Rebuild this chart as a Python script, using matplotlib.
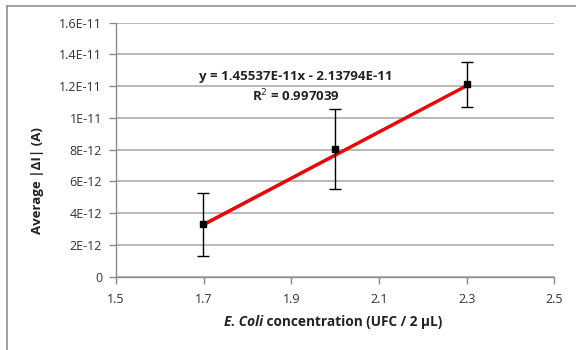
import matplotlib
matplotlib.use("Agg")
import matplotlib.pyplot as plt
from matplotlib.ticker import FixedLocator, FixedFormatter
from matplotlib.lines import Line2D

# ---- data ----
conc = [1.69897, 2.0, 2.30103]
avg_di = [3.30e-12, 8.05e-12, 12.12e-12]
err = [2.0e-12, 2.5e-12, 1.43e-12]
trend_slope = 1.45537e-11
trend_intercept = -2.13794e-11
red_x = [1.69897, 2.30103]
red_y = [3.25e-12, 12.03e-12]
y_ticks = [0, 2e-12, 4e-12, 6e-12, 8e-12, 1e-11, 1.2e-11, 1.4e-11, 1.6e-11]
y_tick_labels = ["0", "2E-12", "4E-12", "6E-12", "8E-12", "1E-11", "1.2E-11", "1.4E-11", "1.6E-11"]
x_ticks = [1.5, 1.7, 1.9, 2.1, 2.3, 2.5]
x_tick_labels = ["1.5", "1.7", "1.9", "2.1", "2.3", "2.5"]
eq_text = "y = 1.45537E-11x - 2.13794E-11"
r2_text = "R$^2$ = 0.997039"

plt.rcParams['font.family'] = ['Open Sans', 'DejaVu Sans']

W, H = 576, 350
fig = plt.figure(figsize=(W / 100, H / 100), dpi=100)
ax = fig.add_axes([116 / W, 1 - 276.7 / H, (554.3 - 116) / W, (276.7 - 22.7) / H])

# figure frame (top and left visible)
fig.add_artist(Line2D([6.5 / W, 6.5 / W], [0, 1 - 5.5 / H], transform=fig.transFigure,
                      color="#9a9a9a", lw=1.3))
fig.add_artist(Line2D([6.5 / W, 1], [1 - 5.5 / H, 1 - 5.5 / H], transform=fig.transFigure,
                      color="#9a9a9a", lw=1.3))

ax.set_xlim(1.5, 2.5)
ax.set_ylim(0, 1.6e-11)
ax.yaxis.set_major_locator(FixedLocator(y_ticks))
ax.yaxis.set_major_formatter(FixedFormatter(y_tick_labels))
ax.xaxis.set_major_locator(FixedLocator(x_ticks))
ax.xaxis.set_major_formatter(FixedFormatter(x_tick_labels))
ax.grid(axis='y', color="#a6a6a6", lw=1.1)
ax.set_axisbelow(True)
for s in ['top', 'right']:
    ax.spines[s].set_visible(False)
for s in ['left', 'bottom']:
    ax.spines[s].set_color("#8c8c8c")
    ax.spines[s].set_linewidth(1.0)
ax.tick_params(axis='both', direction='out', length=5, width=1, color="#8c8c8c",
               labelsize=9, labelcolor="#333333", pad=5)
ax.tick_params(axis='x', pad=7)

trend_x = [conc[0], conc[-1]]
trend_y = [trend_slope * v + trend_intercept for v in trend_x]
ax.plot(trend_x, trend_y, color="#404040", lw=1.0, zorder=3)
ax.plot(red_x, red_y, color="#ff0000", lw=2.2, zorder=4)
ax.errorbar(conc, avg_di, yerr=err, fmt='s', color='black', ms=4.5, ecolor='black',
            elinewidth=1.0, capsize=4, capthick=1.0, zorder=5)

ax.text(1.9095, 12.64e-12, eq_text, ha='center', va='center', fontsize=9.5,
        fontweight='bold', color="#222222", zorder=6)
ax.text(1.9095, 11.40e-12, r2_text, ha='center', va='center', fontsize=9.5,
        fontweight='bold', color="#222222", zorder=6)

fig.text(37 / W, 1 - 181 / H, "Average |ΔI| (A)", rotation=90, ha='center', va='center',
         fontsize=9.5, fontweight='bold', color="#222222")
fig.text(263 / W, 1 - 321.7 / H, "E. Coli", ha='right', va='center', fontsize=9.8,
         fontweight='bold', style='italic', color="#222222")
fig.text(263 / W, 1 - 321.7 / H, " concentration (UFC / 2 µL)", ha='left', va='center',
         fontsize=9.8, fontweight='bold', color="#222222")

fig.savefig("out.png", dpi=100)
